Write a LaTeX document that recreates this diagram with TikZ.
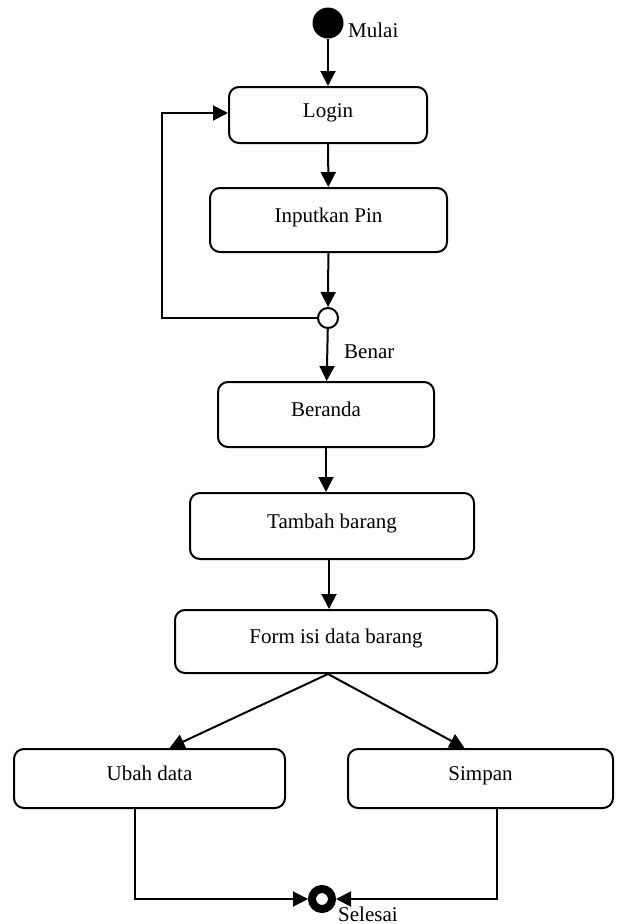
\documentclass[tikz,border=0pt]{standalone}
\usepackage{fontspec}
\setmainfont{Liberation Serif}
\usetikzlibrary{arrows.meta}
\begin{document}
\begin{tikzpicture}[x=1pt,y=-1pt,
  state/.style={draw, line width=2pt, rounded corners=10pt, inner sep=0pt,
    text height=16pt, text depth=12pt, font=\fontsize{21}{25}\selectfont},
  flow/.style={line width=2pt, -{Triangle[length=15pt,width=15pt]}},
  lbl/.style={anchor=base west, inner sep=0pt, font=\fontsize{21}{25}\selectfont}]
\useasboundingbox (0,0) rectangle (617,924);

% initial, decision and final markers
\node[circle, fill=black, minimum size=31pt, inner sep=0pt] (start) at (328,23) {};
\node[circle, draw, line width=2pt, fill=white, minimum size=20pt, inner sep=0pt] (dec) at (328,318) {};
\node[circle, draw=black, line width=8pt, fill=white, minimum size=20pt, inner sep=0pt] (stop) at (322,899) {};

% activity boxes
\node[state, minimum width=198pt, minimum height=56pt] (log) at (328,115) {Login};
\node[state, minimum width=237pt, minimum height=64pt] (inp) at (328.5,220) {Inputkan Pin};
\node[state, minimum width=216pt, minimum height=65pt] (ber) at (326,414.5) {Beranda};
\node[state, minimum width=284pt, minimum height=66pt] (tam) at (332,526) {Tambah barang};
\node[state, minimum width=322pt, minimum height=63pt] (frm) at (336,641.5) {Form isi data barang};
\node[state, minimum width=271pt, minimum height=59pt] (ubah) at (149.5,778.5) {Ubah data};
\node[state, minimum width=265pt, minimum height=59pt] (simp) at (480.5,778.5) {Simpan};

% labels
\node[lbl] (mulai) at (348,37) {Mulai};
\node[lbl] (benar) at (344,358) {Benar};
\node[lbl] (selesai) at (338,921) {Selesai};

% routing columns
\coordinate (loopx) at (162,318);
\coordinate (ubx) at (135,0);
\coordinate (smx) at (497,0);

% connectors
\draw[flow] (start) -- (log);
\draw[flow] (log) -- (inp);
\draw[flow] (inp) -- (dec);
\draw[flow] (dec) -- (ber);
\draw[flow] (dec.west) -- (dec.west -| loopx) |- ([yshift=2pt]log.west);
\draw[flow] (ber.south) -- (ber.south |- tam.north);
\draw[flow] ([xshift=-3pt]tam.south) -- ([xshift=-3pt]tam.south |- frm.north);
\draw[flow] ([xshift=-8pt]frm.south) -- ([xshift=20pt]ubah.north);
\draw[flow] ([xshift=-8pt]frm.south) -- ([xshift=-16pt]simp.north);
\draw[flow] (ubah.south -| ubx) |- (stop.west);
\draw[flow] (simp.south -| smx) |- (stop.east);
\end{tikzpicture}
\end{document}
